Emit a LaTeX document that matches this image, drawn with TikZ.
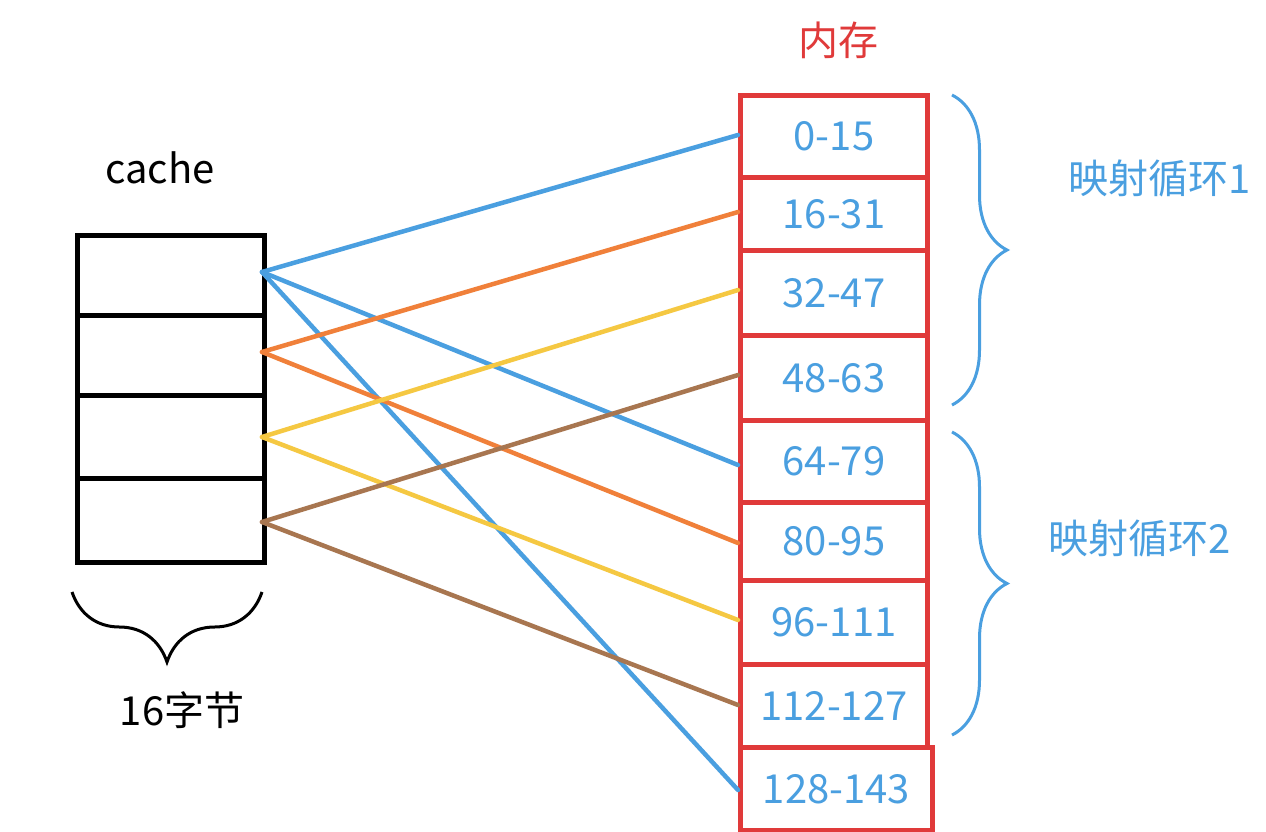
\documentclass[tikz,border=0pt]{standalone}
\usepackage{fontspec}
\setmainfont{Noto Sans CJK SC}
\usetikzlibrary{decorations.pathreplacing}
\definecolor{cblue}{HTML}{4A9FE0}
\definecolor{corange}{HTML}{F0803A}
\definecolor{cyellow}{HTML}{F5C842}
\definecolor{cbrown}{HTML}{A87650}
\definecolor{cred}{HTML}{E03A3A}
\begin{document}
\begin{tikzpicture}[x=1pt,y=-1pt,
  cbox/.style={draw=black,line width=5pt,minimum width=187pt,inner sep=0pt,anchor=north west},
  mbox/.style={draw=cred,line width=5pt,minimum width=187pt,inner sep=0pt,anchor=north west,text=cblue,font=\fontsize{40}{42}\selectfont},
  link/.style={line width=4.5pt,line cap=round},
  brc/.style={decorate,decoration={brace,amplitude=55pt},line width=3pt},
  lbl/.style={font=\fontsize{40}{42}\selectfont}]
\useasboundingbox (0,0) rectangle (1266,831);
\fill[white] (0,0) rectangle (1266,831);
% cache
\node[cbox,minimum height=80pt] (c1) at (75,233) {};
\node[cbox,minimum height=80pt] (c2) at (75,313) {};
\node[cbox,minimum height=83pt] (c3) at (75,393) {};
\node[cbox,minimum height=84pt] (c4) at (75,476) {};
% memory
\node[mbox,minimum height=82pt] (m1) at (738,93) {0-15};
\node[mbox,minimum height=73pt] (m2) at (738,175) {16-31};
\node[mbox,minimum height=85pt] (m3) at (738,248) {32-47};
\node[mbox,minimum height=85pt] (m4) at (738,333) {48-63};
\node[mbox,minimum height=82pt] (m5) at (738,418) {64-79};
\node[mbox,minimum height=78pt] (m6) at (738,500) {80-95};
\node[mbox,minimum height=84pt] (m7) at (738,578) {96-111};
\node[mbox,minimum height=83pt] (m8) at (738,662) {112-127};
\node[mbox,minimum height=83pt,minimum width=192pt] (m9) at (738,745) {128-143};
% anchors
\coordinate (a1) at (262,272);
\coordinate (a2) at (262,352);
\coordinate (a3) at (262,437);
\coordinate (a4) at (262,522);
\coordinate (b1) at (738,135);
\coordinate (b2) at (738,212);
\coordinate (b3) at (738,290);
\coordinate (b4) at (738,375);
\coordinate (b5) at (738,465);
\coordinate (b6) at (738,543);
\coordinate (b7) at (738,620);
\coordinate (b8) at (738,705);
\coordinate (b9) at (738,790);
\draw[link,cblue] (a1) -- (b1);
\draw[link,cblue] (a1) -- (b5);
\draw[link,cblue] (a1) -- (b9);
\draw[link,corange] (a2) -- (b2);
\draw[link,corange] (a2) -- (b6);
\draw[link,cyellow] (a3) -- (b3);
\draw[link,cyellow] (a3) -- (b7);
\draw[link,cbrown] (a4) -- (b4);
\draw[link,cbrown] (a4) -- (b8);
% braces
\draw[brc,cblue] (952,95) -- (952,405);
\draw[brc,cblue] (952,432) -- (952,735);
\draw[brc,black,decoration={amplitude=70pt}] (262,592) -- (72,592);
% labels
\node[lbl] (tcache) at (160,168) {cache};
\node[lbl,text=cred] (tmem) at (838,40) {内存};
\node[lbl] (tbytes) at (182,710) {16字节};
\node[lbl,text=cblue] (tl1) at (1160,178) {映射循环1};
\node[lbl,text=cblue] (tl2) at (1140,538) {映射循环2};
\end{tikzpicture}
\end{document}
